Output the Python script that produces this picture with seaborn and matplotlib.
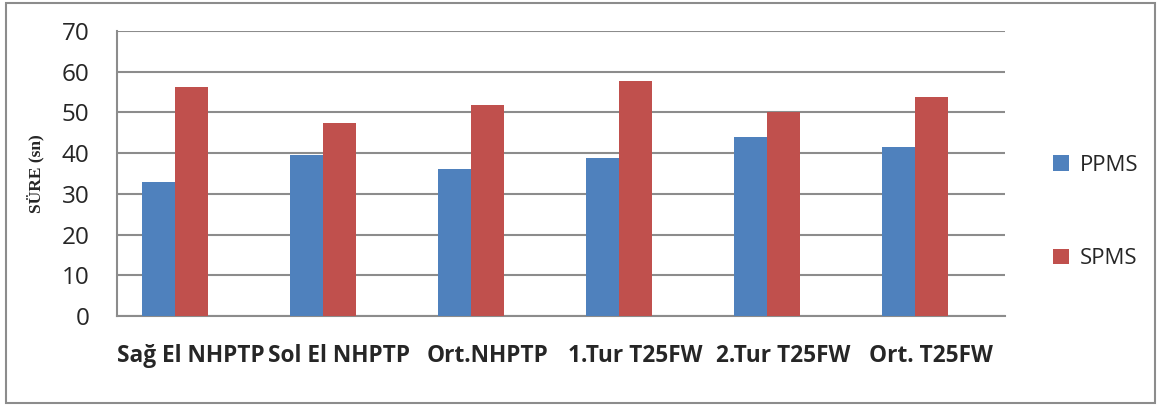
import matplotlib
matplotlib.use("Agg")
import matplotlib.pyplot as plt
from matplotlib.patches import Rectangle
from matplotlib.ticker import FixedLocator
import seaborn as sns
import pandas as pd

categories = ["Sağ El NHPTP", "Sol El NHPTP", "Ort.NHPTP",
              "1.Tur T25FW", "2.Tur T25FW", "Ort. T25FW"]
ppms = [32.8, 39.6, 36.1, 38.9, 44.0, 41.4]
spms = [56.2, 47.5, 51.8, 57.6, 50.0, 53.8]
series = ["PPMS", "SPMS"]
colors = ["#4F81BD", "#C0504D"]
y_ticks = [0, 10, 20, 30, 40, 50, 60, 70]

df = pd.DataFrame({
    "kategori": categories * 2,
    "grup": [series[0]] * len(categories) + [series[1]] * len(categories),
    "sure": ppms + spms,
})

sns.set_theme(style="white")
plt.rcParams["font.family"] = ["Open Sans", "DejaVu Sans"]

fig = plt.figure(figsize=(11.57, 4.05), dpi=100)
ax = fig.add_axes([117 / 1157, 1 - 316 / 405, (1005 - 117) / 1157, (316 - 31) / 405])

sns.barplot(data=df, x="kategori", y="sure", hue="grup", order=categories,
            hue_order=series, palette=colors, width=0.445, gap=0,
            linewidth=0, saturation=1, ax=ax, zorder=3)

# bars sit slightly left of the category centre
shift = 0.111
ax.set_xlim(-0.5 + shift, len(categories) - 0.5 + shift)
ax.set_ylim(0, 70)
ax.set_yticks(y_ticks)
ax.set_yticklabels([str(v) for v in y_ticks], fontsize=17.5)

ax.set_xticks([i + shift for i in range(len(categories))])
ax.set_xticklabels(categories, fontsize=16.3, fontweight="bold")
ax.tick_params(axis="x", which="major", length=0, pad=20)
ax.xaxis.set_minor_locator(FixedLocator([i - 0.5 + shift for i in range(len(categories) + 1)]))
ax.tick_params(axis="x", which="minor", length=7, width=1.5, color="#8c8c8c", direction="out")
ax.tick_params(axis="y", which="major", length=8, width=1.5, color="#8c8c8c", direction="out", pad=12)

ax.yaxis.grid(True, color="#8c8c8c", linewidth=1.5, zorder=0)
ax.set_axisbelow(True)
for side in ["top", "right"]:
    ax.spines[side].set_visible(False)
for side in ["left", "bottom"]:
    ax.spines[side].set_color("#8c8c8c")
    ax.spines[side].set_linewidth(1.5)

ax.set_xlabel("")
ax.set_ylabel("SÜRE (sn)", family=["Liberation Serif"], fontweight="bold", fontsize=12.5, labelpad=12)

handles, labels = ax.get_legend_handles_labels()
ax.legend(handles, labels, loc="center left", bbox_to_anchor=(1033 / 1157, 1 - 212 / 405),
          bbox_transform=fig.transFigure, frameon=False, fontsize=16,
          handlelength=0.7, handleheight=0.7, handletextpad=0.5, labelspacing=3.25)

fig.patches.append(Rectangle((6 / 1157, 2 / 405), 1149 / 1157, 400 / 405, transform=fig.transFigure,
                             fill=False, edgecolor="#8c8c8c", linewidth=1.5))

fig.savefig("out.png", dpi=100, facecolor="white")
